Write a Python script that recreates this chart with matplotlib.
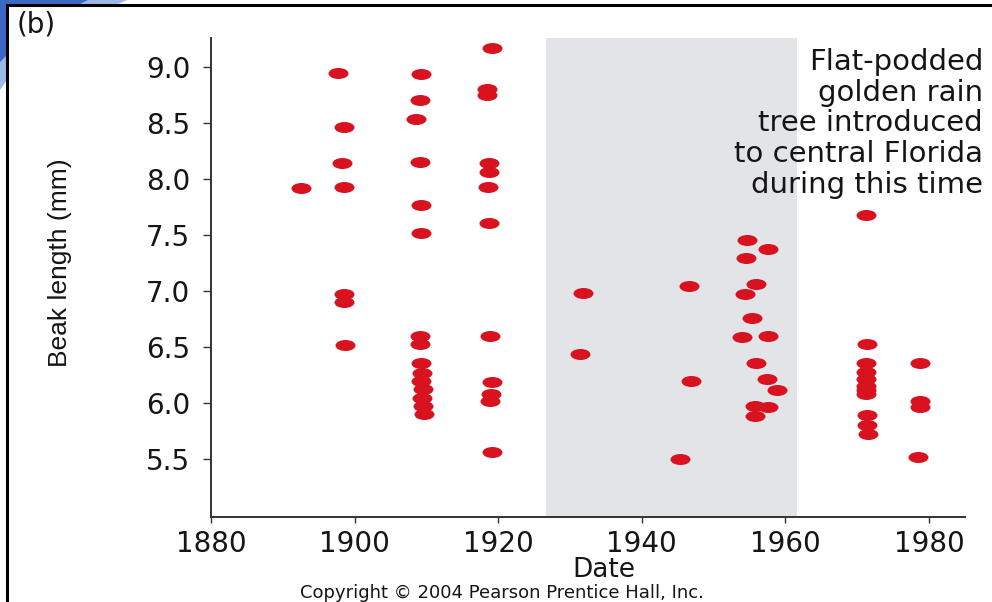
import matplotlib
matplotlib.use("Agg")
import matplotlib.pyplot as plt
from matplotlib.path import Path
from matplotlib.transforms import Affine2D
from matplotlib.patches import Polygon
from matplotlib.lines import Line2D

# ---- data ----
years = [1892.5,
         1897.7, 1898.5, 1898.3, 1898.5, 1898.5, 1898.5, 1898.7,
         1909.3, 1909.1, 1908.6, 1909.1, 1909.3, 1909.3, 1909.1, 1909.1,
         1909.2, 1909.4, 1909.3, 1909.5, 1909.4, 1909.5, 1909.6,
         1919.1, 1918.5, 1918.5, 1918.7, 1918.7, 1918.6, 1918.7, 1918.8,
         1919.1, 1919.0, 1918.8, 1919.1,
         1931.8, 1931.4,
         1946.6, 1946.9, 1945.3,
         1954.7, 1957.6, 1954.5, 1955.9, 1954.4, 1955.3, 1953.95, 1957.6,
         1955.9, 1957.4, 1958.8, 1955.7, 1957.6, 1955.7,
         1971.2, 1971.3, 1971.2, 1971.2, 1971.2, 1971.2, 1971.2, 1971.2,
         1971.3, 1971.3, 1971.5,
         1978.8, 1978.8, 1978.8, 1978.5]
beak_mm = [7.92,
           8.95, 8.47, 8.15, 7.93, 6.98, 6.91, 6.52,
           8.94, 8.71, 8.54, 8.16, 7.77, 7.52, 6.60, 6.53,
           6.36, 6.27, 6.20, 6.13, 6.05, 5.98, 5.91,
           9.17, 8.81, 8.75, 8.15, 8.07, 7.93, 7.61, 6.60,
           6.19, 6.08, 6.02, 5.57,
           6.99, 6.44,
           7.05, 6.20, 5.50,
           7.46, 7.38, 7.30, 7.07, 6.98, 6.76, 6.59, 6.60,
           6.36, 6.22, 6.12, 5.98, 5.97, 5.89,
           7.68, 6.53, 6.36, 6.28, 6.22, 6.16, 6.12, 6.08,
           5.90, 5.81, 5.73,
           6.36, 6.02, 5.97, 5.52]
x_ticks = [1880, 1900, 1920, 1940, 1960, 1980]
y_ticks = [5.5, 6.0, 6.5, 7.0, 7.5, 8.0, 8.5, 9.0]
intro_start, intro_end = 1926.7, 1961.6
note = "Flat-podded\ngolden rain\ntree introduced\nto central Florida\nduring this time"

W, H = 992, 602
fig = plt.figure(figsize=(W / 100, H / 100), dpi=100)
fig.patch.set_facecolor("white")

ax = fig.add_axes([211 / W, 1 - 517 / H, (965 - 211) / W, (517 - 38) / H])
ax.set_xlim(1880, 1985)
ax.set_ylim(4.986, 9.263)

ax.axvspan(intro_start, intro_end, color="#e3e4e8", lw=0, zorder=0)

ell = Path.unit_circle().transformed(Affine2D().scale(1.0, 0.55))
ax.scatter(years, beak_mm, marker=ell, s=14.4 ** 2, c="#d8121f",
           linewidths=0, zorder=3)

for s in ("top", "right"):
    ax.spines[s].set_visible(False)
for s in ("left", "bottom"):
    ax.spines[s].set_linewidth(1.4)
    ax.spines[s].set_color("#333333")

ax.set_xticks(x_ticks)
ax.set_xticklabels([str(v) for v in x_ticks])
ax.set_yticks(y_ticks)
ax.set_yticklabels([f"{v:.1f}" for v in y_ticks])
ax.tick_params(axis="y", direction="out", length=6, width=1, pad=9,
               labelsize=20, color="#333333", labelcolor="#151515")
ax.tick_params(axis="x", direction="out", length=4, width=1, pad=5,
               labelsize=20, color="#333333", labelcolor="#151515")

ax.set_ylabel("Beak length (mm)", fontsize=19,
              family=["Liberation Sans Narrow", "Liberation Sans"],
              color="#151515")
ax.yaxis.set_label_coords(-0.2003, 0.531)
ax.yaxis.label.set_verticalalignment("center")
ax.yaxis.label.set_horizontalalignment("center")

ax.set_xlabel("Date", fontsize=19, color="#151515")
ax.xaxis.set_label_coords(0.521, -(577 - 517) / 479)
ax.xaxis.label.set_verticalalignment("baseline")

ax.text(983 / W, 1 - 48 / H, note, transform=fig.transFigure, ha="right",
        va="top", multialignment="right", fontsize=21, linespacing=1.12,
        color="#151515", zorder=4)

fig.text(502 / W, 1 - 598 / H, "Copyright \u00a9 2004 Pearson Prentice Hall, Inc.",
         ha="center", va="baseline", fontsize=13, color="#151515")
fig.text(17 / W, 1 - 25 / H, "(b)", ha="left", va="center", fontsize=20,
         color="#151515")

# slide frame and decoration
def px(pts):
    return [(x / W, 1 - y / H) for x, y in pts]

fig.add_artist(Polygon(px([(0, 0), (127, 0), (118, 4), (7, 4), (7, 80), (0, 90)]),
                       closed=True, transform=fig.transFigure,
                       facecolor="#9bb8e6", edgecolor="none"))
fig.add_artist(Polygon(px([(0, 0), (88, 0), (80, 4), (7, 4), (7, 55), (0, 62)]),
                       closed=True, transform=fig.transFigure,
                       facecolor="#3a68c2", edgecolor="none"))
fig.add_artist(Line2D([7 / W, 7 / W], [0, 1 - 5 / H], transform=fig.transFigure,
                      color="black", lw=2.2))
fig.add_artist(Line2D([7 / W, 1], [1 - 5 / H, 1 - 5 / H], transform=fig.transFigure,
                      color="black", lw=2.2))

fig.savefig("out.png", dpi=100)
